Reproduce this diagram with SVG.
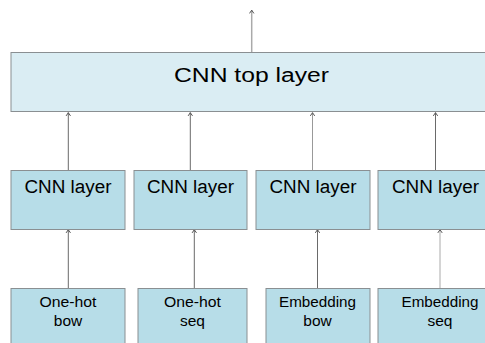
<svg xmlns="http://www.w3.org/2000/svg" width="485" height="343" viewBox="0 0 485 343">
<defs>
<marker id="ah" viewBox="0 0 6 5" refX="3" refY="0.6" markerWidth="6" markerHeight="5" markerUnits="userSpaceOnUse" orient="0">
<path d="M0.8,4 L3,0.8 L5.2,4" fill="none" stroke="#555" stroke-width="1"/>
</marker>
</defs>
<style>
.box{fill:#b7dde8;stroke:#8a8f92;stroke-width:1}
.top{fill:#daedf3;stroke:#8a8f92;stroke-width:1}
.t{font-family:"Liberation Sans",Arial,sans-serif;fill:#000;text-anchor:middle}
.c{stroke:#6a6a6a;stroke-width:1;fill:none;marker-end:url(#ah)}
</style>
<g id="connectors">
<line class="c" x1="251.7" y1="52" x2="251.7" y2="10" style="stroke:#aaa;stroke-width:1.5"/>
<line class="c" x1="68.3" y1="170" x2="68.3" y2="112.5"/>
<line class="c" x1="190.3" y1="170" x2="190.3" y2="112.5"/>
<line class="c" x1="312.5" y1="170" x2="312.5" y2="112.5" style="stroke:#999"/>
<line class="c" x1="435.5" y1="170" x2="435.5" y2="112.5"/>
<line class="c" x1="68.3" y1="288" x2="68.3" y2="229.5"/>
<line class="c" x1="194.3" y1="288" x2="194.3" y2="229.5"/>
<line class="c" x1="317.5" y1="288" x2="317.5" y2="229.5"/>
<line class="c" x1="440" y1="288" x2="440" y2="229.5" style="stroke:#aaa"/>
</g>
<g id="top_layer">
<rect class="top" x="11" y="52.5" width="480" height="59"/>
<text class="t" x="251.5" y="82" font-size="19.5" textLength="155" lengthAdjust="spacingAndGlyphs">CNN top layer</text>
</g>
<g id="cnn1">
<rect class="box" x="11" y="170.5" width="114" height="59"/>
<text class="t" x="68" y="193" font-size="18" textLength="87" lengthAdjust="spacingAndGlyphs">CNN layer</text>
</g>
<g id="cnn2">
<rect class="box" x="134" y="170.5" width="113" height="59"/>
<text class="t" x="190.5" y="193" font-size="18" textLength="87" lengthAdjust="spacingAndGlyphs">CNN layer</text>
</g>
<g id="cnn3">
<rect class="box" x="256" y="170.5" width="114" height="59"/>
<text class="t" x="313" y="193" font-size="18" textLength="87" lengthAdjust="spacingAndGlyphs">CNN layer</text>
</g>
<g id="cnn4">
<rect class="box" x="378" y="170.5" width="114" height="59"/>
<text class="t" x="435.5" y="193" font-size="18" textLength="87" lengthAdjust="spacingAndGlyphs">CNN layer</text>
</g>
<g id="in1">
<rect class="box" x="11" y="288.5" width="114" height="60"/>
<text class="t" x="68" y="307" font-size="15.5" textLength="57" lengthAdjust="spacingAndGlyphs">One-hot</text>
<text class="t" x="68" y="325.5" font-size="15.5">bow</text>
</g>
<g id="in2">
<rect class="box" x="138" y="288.5" width="109" height="60"/>
<text class="t" x="192.5" y="307" font-size="15.5" textLength="57" lengthAdjust="spacingAndGlyphs">One-hot</text>
<text class="t" x="192.5" y="325.5" font-size="15.5">seq</text>
</g>
<g id="in3">
<rect class="box" x="266" y="288.5" width="104" height="60"/>
<text class="t" x="317.5" y="307" font-size="15.5" textLength="77" lengthAdjust="spacingAndGlyphs">Embedding</text>
<text class="t" x="317.5" y="325.5" font-size="15.5">bow</text>
</g>
<g id="in4">
<rect class="box" x="378" y="288.5" width="114" height="60"/>
<text class="t" x="440" y="307" font-size="15.5" textLength="77" lengthAdjust="spacingAndGlyphs">Embedding</text>
<text class="t" x="440" y="325.5" font-size="15.5">seq</text>
</g>
</svg>
